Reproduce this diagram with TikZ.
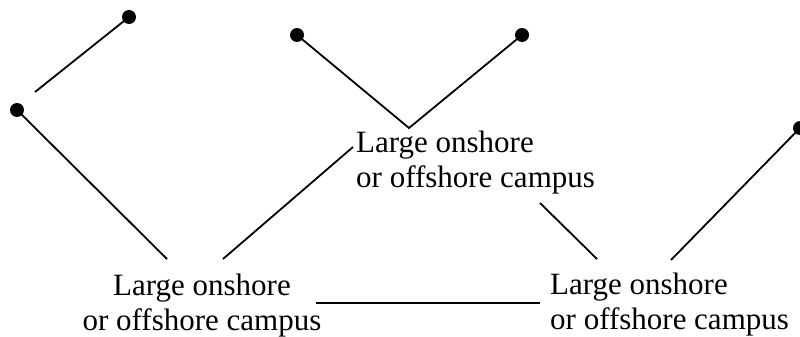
\documentclass[tikz,border=0pt]{standalone}
\usepackage{fontspec}
\setmainfont{Liberation Serif}
\tikzset{
  dot/.style={circle,fill=black,inner sep=0pt,minimum size=14pt},
  campus/.style={inner sep=0pt,font=\fontsize{31}{35}\selectfont},
  link/.style={line width=1.8pt}
}
\begin{document}
\begin{tikzpicture}[x=1pt,y=-1pt]
    \useasboundingbox (0,0) rectangle (800,337);

    % etichette
    \node[campus,align=center,anchor=base] (campusL) at (202,330) {Large onshore\\or offshore campus};
    \node[campus,align=left,anchor=base west] (campusM) at (356,187) {Large onshore\\or offshore campus};
    \node[campus,align=left,anchor=base west] (campusR) at (550,329) {Large onshore\\or offshore campus};

    % punti
    \node[dot] (dA) at (129,17) {};
    \node[dot] (dB) at (17,110) {};
    \node[dot] (dC) at (297,35) {};
    \node[dot] (dD) at (522,35) {};
    \node[dot] (dE) at (800,128) {};

    % estremi liberi
    \coordinate (eA) at (35,92);
    \coordinate (eB) at (167,259);
    \coordinate (eC1) at (223,259);
    \coordinate (eC2) at (353,147);
    \coordinate (apex) at (409,128);
    \coordinate (eD1) at (540,203);
    \coordinate (eD2) at (597,259);
    \coordinate (eE) at (671,260);
    \coordinate (eF1) at (316,303);
    \coordinate (eF2) at (540,303);

    \draw[link] (dA.center) -- (eA);
    \draw[link] (dB.center) -- (eB);
    \draw[link] (eC1) -- (eC2);
    \draw[link] (dC.center) -- (apex) -- (dD.center);
    \draw[link] (eD1) -- (eD2);
    \draw[link] (eE) -- (dE.center);
    \draw[link,line width=2.4pt] (eF1) -- (eF2);
\end{tikzpicture}
\end{document}
